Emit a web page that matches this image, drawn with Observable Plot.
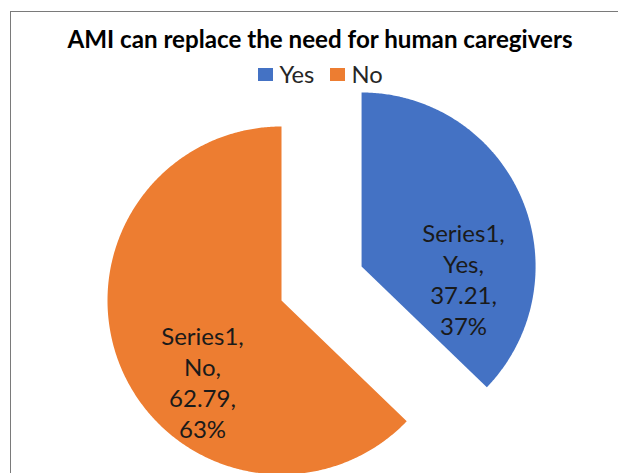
<!DOCTYPE html>
<html>
<head>
<meta charset="utf-8">
<script src="https://cdn.jsdelivr.net/npm/d3@7"></script>
<script src="https://cdn.jsdelivr.net/npm/@observablehq/plot@0.6"></script>
<style>
  html, body { margin: 0; padding: 0; background: #fff; overflow: hidden; }
  #wrap { position: relative; width: 618px; height: 473px; overflow: hidden; font-family: Lato, "Open Sans", sans-serif; }
  #frame { position: absolute; left: 10px; top: 11px; width: 608px; height: 462px; box-sizing: border-box; border: 0; border-left: 1.5px solid #7a7a7a; border-top: 1.5px solid #7a7a7a; }
  #title { position: absolute; left: 0; top: 27px; width: 640px; text-align: center; font-weight: 700; color: #000; white-space: nowrap; line-height: 1; }
  #legend { position: absolute; left: 0; top: 63px; width: 641px; display: flex; justify-content: center; align-items: center; color: #262626; line-height: 1; }
  .sw { display: inline-block; width: 15px; height: 13px; margin-right: 6px; }
  .item { display: flex; align-items: center; margin: 0 8px; }
  #chart { position: absolute; left: 0; top: 0; }
</style>
</head>
<body>
<div id="wrap">
  <div id="frame"></div>
  <div id="chart"></div>
  <div id="title"></div>
  <div id="legend"></div>
</div>
<script>
// ---- data ----
const title = "AMI can replace the need for human caregivers";
const seriesName = "Series1";
const categories = ["Yes", "No"];
const values = [37.21, 62.79];
const percentLabels = ["37%", "63%"];
const colors = ["#4472C4", "#ED7D31"];

// ---- layout config ----
const W = 618, H = 473;
const cx = 281, cy = 300, R = 174;            // pie centre & radius (pixels)
const explode = {Yes: 0.5, No: 0};            // fraction of radius
const labelOffset = {Yes: [0.586, -0.069], No: [-0.454, -0.466]}; // relative to slice centre, radius units

const data = categories.map((c, i) => ({category: c, value: values[i], pct: percentLabels[i]}));
const arcs = d3.pie().sort(null).value(d => d.value)(data);

const polys = [];
const labels = [];
for (const a of arcs) {
  const cat = a.data.category;
  const mid = (a.startAngle + a.endAngle) / 2;
  const ox = explode[cat] * Math.sin(mid), oy = explode[cat] * Math.cos(mid);
  polys.push({category: cat, x: ox, y: oy});
  const n = Math.max(2, Math.ceil((a.endAngle - a.startAngle) / (Math.PI / 360)));
  for (let k = 0; k <= n; k++) {
    const t = a.startAngle + (a.endAngle - a.startAngle) * k / n;
    polys.push({category: cat, x: ox + Math.sin(t), y: oy + Math.cos(t)});
  }
  const [lx, ly] = labelOffset[cat];
  labels.push({category: cat, x: ox + lx, y: oy + ly,
    text: `${seriesName},\n${cat},\n${a.data.value.toFixed(2)},\n${a.data.pct}`});
}

const chart = Plot.plot({
  width: W, height: H,
  marginTop: 0, marginRight: 0, marginBottom: 0, marginLeft: 0,
  x: {domain: [-1, 1], range: [cx - R, cx + R], axis: null},
  y: {domain: [-1, 1], range: [cy + R, cy - R], axis: null},
  color: {domain: categories, range: colors},
  style: {background: "transparent", overflow: "visible"},
  marks: [
    Plot.line(polys, {x: "x", y: "y", z: "category", fill: "category", stroke: "none", curve: "linear-closed"}),
    Plot.text(labels, {x: "x", y: "y", text: "text", fontSize: 24, lineHeight: 1.3, lineAnchor: "middle",
      fill: "#1a1a1a", fontFamily: "Lato, sans-serif"})
  ]
});
document.getElementById("chart").appendChild(chart);

// title
const tEl = document.getElementById("title");
tEl.textContent = title;
const ctx = document.createElement("canvas").getContext("2d");
function fit(text, weight, target) {
  ctx.font = `${weight} 100px Lato`;
  return 100 * target / ctx.measureText(text).width;
}
tEl.style.fontSize = fit(title, 700, 506).toFixed(2) + "px";

// legend
const lg = document.getElementById("legend");
const lfs = fit("Yes", 400, 35);
categories.forEach((c, i) => {
  const it = document.createElement("span");
  it.className = "item";
  const sw = document.createElement("span");
  sw.className = "sw"; sw.style.background = colors[i];
  const tx = document.createElement("span");
  tx.textContent = c; tx.style.fontSize = lfs.toFixed(2) + "px";
  it.appendChild(sw); it.appendChild(tx);
  lg.appendChild(it);
});
</script>
</body>
</html>
